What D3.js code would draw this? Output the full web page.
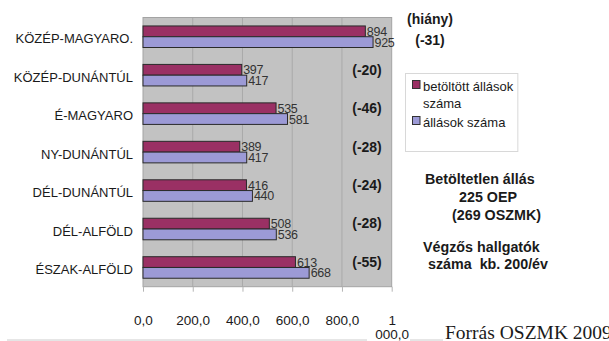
<!DOCTYPE html>
<html>
<head>
<meta charset="utf-8">
<script src="https://cdn.jsdelivr.net/npm/d3@7"></script>
<style>
  html, body { margin: 0; padding: 0; background: #fff; }
  svg { display: block; font-family: "Liberation Sans", Arial, sans-serif; }
</style>
</head>
<body>
<svg id="chart" width="609" height="341"></svg>
<script>
// Regions, filled posts and total posts
const categories = ["KÖZÉP-MAGYARO.", "KÖZÉP-DUNÁNTÚL", "É-MAGYARO", "NY-DUNÁNTÚL", "DÉL-DUNÁNTÚL", "DÉL-ALFÖLD", "ÉSZAK-ALFÖLD"];
const filledPosts = [894, 397, 535, 389, 416, 508, 613];
const totalPosts  = [925, 417, 581, 417, 440, 536, 668];
const shortage    = ["(-31)", "(-20)", "(-46)", "(-28)", "(-24)", "(-28)", "(-55)"];
const tickValues  = [0, 200, 400, 600, 800, 1000];
const legendLines = { filled: ["betöltött állások", "száma"], total: ["állások száma"] };
const noteLines1  = ["Betöltetlen állás", "225 OEP", "(269 OSZMK)"];
const noteLines2  = ["Végzős hallgatók", "száma\u00a0\u00a0kb. 200/év"];
const sourceText  = "Forrás OSZMK 2009";

const colors = { filled: "#9a3064", total: "#9c9ad6" };
const sans = "'Liberation Sans', Arial, sans-serif";

const svg = d3.select("#chart");

const plot = { left: 143, right: 391.7, top: 17.5, bottom: 286.7 };

const x = d3.scaleLinear().domain([0, 1000]).range([plot.left, plot.right]);
const y = d3.scaleBand().domain(categories).range([plot.top, plot.bottom])
  .paddingInner(0.44).paddingOuter(0.22);
const yInner = d3.scaleBand().domain(["filled", "total"]).range([0, y.bandwidth()]);

// Plot background
svg.append("rect")
  .attr("x", plot.left).attr("y", plot.top)
  .attr("width", plot.right - plot.left).attr("height", plot.bottom - plot.top)
  .attr("fill", "#c2c2c2");

// Vertical gridlines
svg.append("g").selectAll("line")
  .data(tickValues.slice(1, -1))
  .join("line")
  .attr("x1", d => x(d)).attr("x2", d => x(d))
  .attr("y1", plot.top).attr("y2", plot.bottom)
  .attr("stroke", "#a9a9a9").attr("stroke-width", 1);

// Plot border
svg.append("rect")
  .attr("x", plot.left).attr("y", plot.top)
  .attr("width", plot.right - plot.left).attr("height", plot.bottom - plot.top)
  .attr("fill", "none").attr("stroke", "#a3a3a3").attr("stroke-width", 1);

// X axis with Hungarian number formatting (thousands split onto a second line)
const huFormat = d3.formatLocale({ decimal: ",", thousands: " ", grouping: [3], currency: ["", " Ft"] }).format(",.1f");
const xAxis = svg.append("g")
  .attr("transform", `translate(0,${plot.bottom})`)
  .call(d3.axisBottom(x).tickValues(tickValues).tickSize(5).tickPadding(24).tickFormat(() => ""));
xAxis.select(".domain").remove();
xAxis.selectAll(".tick line").attr("stroke", "#b5b5b5");
xAxis.selectAll(".tick text").each(function(d) {
  const parts = huFormat(d).split(" ");
  const t = d3.select(this)
    .attr("font-size", 13.5).attr("fill", "#1a1a1a")
    .attr("font-family", sans);
  parts.forEach((p, i) => {
    t.append("tspan").attr("x", 0).attr("dy", i === 0 ? "0.71em" : "1.02em").text(p);
  });
});

// Category labels
svg.append("g").selectAll("text")
  .data(categories)
  .join("text")
  .attr("x", 133)
  .attr("y", d => y(d) + y.bandwidth() / 2 + 2)
  .attr("dy", "0.35em")
  .attr("text-anchor", "end")
  .attr("font-size", 13)
  .attr("fill", "#1a1a1a")
  .text(d => d);

// Bars
const rows = categories.map((c, i) => ({ cat: c, filled: filledPosts[i], total: totalPosts[i], short: shortage[i], i }));
const groups = svg.append("g").selectAll("g")
  .data(rows)
  .join("g")
  .attr("transform", d => `translate(0,${y(d.cat)})`);

["filled", "total"].forEach(key => {
  groups.append("rect")
    .attr("x", x(0))
    .attr("y", yInner(key))
    .attr("width", d => x(d[key]) - x(0))
    .attr("height", yInner.bandwidth())
    .attr("fill", colors[key])
    .attr("stroke", "#2a2a2a")
    .attr("stroke-width", 1);
  groups.append("text")
    .attr("x", d => x(d[key]) + 1.5)
    .attr("y", yInner(key) + yInner.bandwidth() / 2)
    .attr("dy", "0.36em")
    .attr("font-size", 12.5)
    .attr("letter-spacing", -0.3)
    .attr("fill", "#333")
    .text(d => d[key]);
});

// Shortage column
const colX = 430;
svg.append("text")
  .attr("x", colX).attr("y", 24)
  .attr("text-anchor", "middle")
  .attr("font-size", 14).attr("font-weight", "bold").attr("fill", "#1a1a1a")
  .text("(hiány)");
groups.append("text")
  .attr("x", d => d.i === 0 ? colX : 367)
  .attr("y", d => y.bandwidth() / 2 + (d.i === 0 ? 3 : -5.5))
  .attr("dy", "0.35em")
  .attr("text-anchor", "middle")
  .attr("font-size", 14).attr("font-weight", "bold").attr("fill", "#1a1a1a")
  .text(d => d.short);

// Legend: frame sized around its entries
const legend = svg.append("g");
const legendBox = legend.append("rect")
  .attr("x", 405.5).attr("y", 73.5).attr("height", 78)
  .attr("fill", "#fff").attr("stroke", "#d8d8d8");
const legendItems = [
  { key: "filled", y: 85 },
  { key: "total", y: 121 }
];
let legendTextRight = 0;
legendItems.forEach(item => {
  legend.append("rect")
    .attr("x", 412.5).attr("y", item.y - 4.5).attr("width", 7.5).attr("height", 8)
    .attr("fill", colors[item.key]).attr("stroke", "#333").attr("stroke-width", 1);
  const t = legend.append("text")
    .attr("x", 423).attr("y", item.y + 5.5)
    .attr("font-size", 13).attr("fill", "#1a1a1a");
  legendLines[item.key].forEach((l, i) => {
    t.append("tspan").attr("x", 423).attr("dy", i === 0 ? 0 : 17.5).text(l);
  });
  const bb = t.node().getBBox();
  legendTextRight = Math.max(legendTextRight, bb.x + bb.width);
});
legendBox.attr("width", Math.max(111, legendTextRight + 4 - 405.5));

// Notes
const notes = svg.append("g")
  .attr("font-size", 14.3).attr("font-weight", "bold").attr("fill", "#1a1a1a");
notes.append("text").attr("x", 425).attr("y", 184).text(noteLines1[0]);
notes.append("text").attr("x", 459).attr("y", 202).text(noteLines1[1]);
notes.append("text").attr("x", 452).attr("y", 220).text(noteLines1[2]);
notes.append("text").attr("x", 423).attr("y", 252).text(noteLines2[0]);
notes.append("text").attr("x", 428).attr("y", 269).text(noteLines2[1]);

// Source line and text
svg.append("line").attr("x1", 7).attr("x2", 367).attr("y1", 340).attr("y2", 340)
  .attr("stroke", "#cccccc");
svg.append("line").attr("x1", 410).attr("x2", 443).attr("y1", 340).attr("y2", 340)
  .attr("stroke", "#cccccc");
svg.append("text")
  .attr("x", 445).attr("y", 338.5)
  .attr("font-family", "'Liberation Serif', 'Times New Roman', serif")
  .attr("font-size", 19.5).attr("fill", "#1a1a1a")
  .text(sourceText);
</script>
</body>
</html>
